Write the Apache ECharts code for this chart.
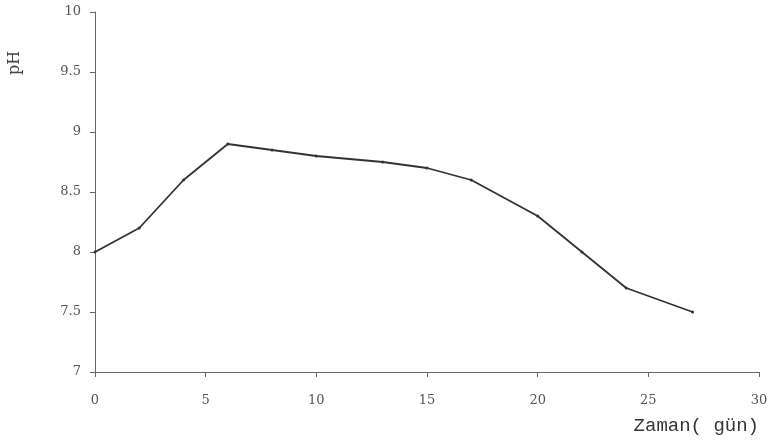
<!DOCTYPE html>
<html>
<head>
<meta charset="utf-8">
<script src="https://cdn.jsdelivr.net/npm/echarts@6/dist/echarts.min.js"></script>
<style>
html, body { margin: 0; padding: 0; background: #fff; }
#chart { width: 776px; height: 444px; }
</style>
</head>
<body>
<div id="chart"></div>
<script>
// zaman (gün) ve pH değerleri
var days = [0, 2, 4, 6, 8, 10, 13, 15, 17, 20, 22, 24, 27];
var phValues = [8.0, 8.2, 8.6, 8.9, 8.85, 8.8, 8.75, 8.7, 8.6, 8.3, 8.0, 7.7, 7.5];
var xTicks = [0, 5, 10, 15, 20, 25, 30];
var yTicks = [7, 7.5, 8, 8.5, 9, 9.5, 10];

var points = days.map(function (d, i) { return [d, phValues[i]]; });

var labelStyle = { color: '#555', fontFamily: 'DejaVu Serif', fontSize: 13 };

var chart = echarts.init(document.getElementById('chart'));
chart.setOption({
    animation: false,
    backgroundColor: '#fff',
    grid: { left: 95, right: 17, top: 12, bottom: 72 },
    // y ekseni adı, referanstaki gibi üstte
    graphic: [{
        type: 'text',
        x: 15,
        y: 63,
        rotation: Math.PI / 2,
        style: { text: 'pH', fill: '#444', font: '16px "DejaVu Serif"', align: 'center', verticalAlign: 'middle' }
    }],
    xAxis: {
        type: 'value',
        min: xTicks[0],
        max: xTicks[xTicks.length - 1],
        interval: 5,
        name: 'Zaman( gün)',
        nameLocation: 'end',
        nameGap: 0,
        nameTextStyle: {
            color: '#333', fontFamily: 'Liberation Mono', fontSize: 19,
            align: 'right', verticalAlign: 'top', padding: [44, 0, 0, 0]
        },
        axisLine: { lineStyle: { color: '#666', width: 1 } },
        axisTick: { show: true, length: 5, lineStyle: { color: '#666' } },
        axisLabel: Object.assign({ margin: 22 }, labelStyle),
        splitLine: { show: false }
    },
    yAxis: {
        type: 'value',
        min: yTicks[0],
        max: yTicks[yTicks.length - 1],
        interval: 0.5,
        axisLine: { show: true, lineStyle: { color: '#666', width: 1 } },
        axisTick: { show: true, length: 5, lineStyle: { color: '#666' } },
        axisLabel: Object.assign({ margin: 14 }, labelStyle),
        splitLine: { show: false }
    },
    series: [{
        type: 'line',
        data: points,
        symbol: 'circle',
        symbolSize: 3,
        itemStyle: { color: '#333' },
        lineStyle: { color: '#333', width: 1.8 }
    }]
});
</script>
</body>
</html>
